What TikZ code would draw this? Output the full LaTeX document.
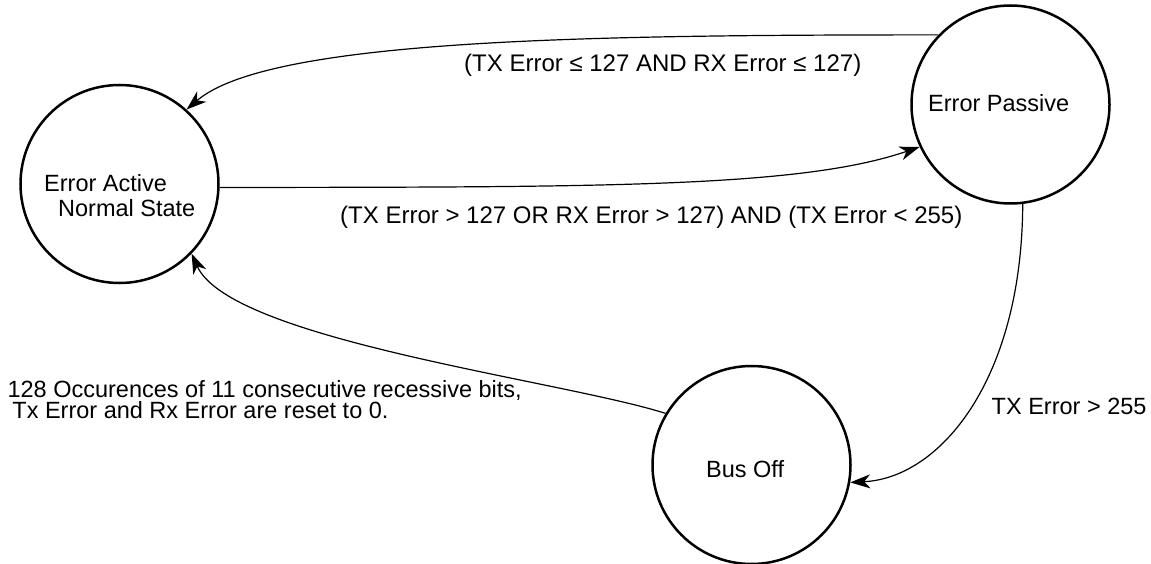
\documentclass[tikz,border=0pt]{standalone}
\usepackage{fontspec}
\setmainfont{Liberation Sans}
\usetikzlibrary{arrows.meta}
\begin{document}
\begin{tikzpicture}[x=1pt,y=-1pt,
  state/.style={circle,draw,line width=2.5pt,minimum size=198pt,inner sep=0pt},
  conn/.style={line width=1.2pt,-{Stealth[length=20pt,width=14pt,inset=6pt]}},
  txt/.style={inner sep=0pt,anchor=base west,font=\fontsize{23.5}{25}\selectfont},
  lbl/.style={txt,font=\fontsize{24}{26}\selectfont}]
\useasboundingbox (0,0) rectangle (1151,564);
\node[state] (ea) at (119.5,184) {};
\node[state] (ep) at (1010.5,104.5) {};
\node[state] (bo) at (751.5,465) {};
\node[txt] (eat1) at (44,191.7) {Error Active};
\node[txt] (eat2) at (58,216.7) {Normal State};
\node[txt] (ept) at (928,111.7) {Error Passive};
\node[txt] (bot) at (706,477) {Bus Off};
\node[lbl] (l1) at (464,72) {(TX Error ≤ 127 AND RX Error ≤ 127)};
\node[lbl] (l2) at (340,223) {(TX Error > 127 OR RX Error > 127) AND (TX Error < 255)};
\node[txt] (l3) at (991.5,414) {TX Error > 255};
\node[txt] (l4a) at (7.4,397) {128 Occurences of 11 consecutive recessive bits,};
\node[txt] (l4b) at (12.2,418.5) {Tx Error and Rx Error are reset to 0.};
\draw[conn] (ep.136) .. controls (600,35) and (270,38) .. (ea.48);
\draw[conn] (ea.-2) .. controls (600,187) and (800,188) .. (ep.205.5);
\draw[conn] (ep.-83) .. controls (1022,380) and (940,478) .. (bo.-10.6);
\draw[conn] (bo.149.5) .. controls (560,380) and (230,340) .. (ea.-44.8);
\end{tikzpicture}
\end{document}
